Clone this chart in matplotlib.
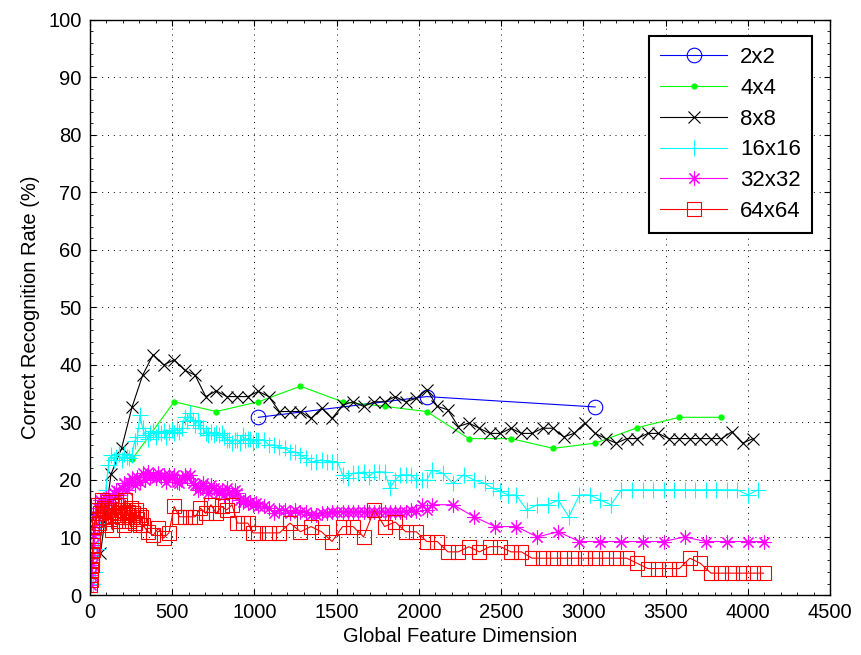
import matplotlib
matplotlib.use("agg")
import matplotlib.pyplot as plt
from matplotlib.ticker import MultipleLocator

plt.rcParams['font.family'] = ['Liberation Sans', 'DejaVu Sans']

# 2x2
x2 = [1024, 2048, 3072]
y2 = [30.9, 34.5, 32.7]

# 4x4
x4 = list(range(256, 3841, 256))
y4 = [23.6, 33.6, 31.9, 33.6, 36.3, 33.6, 32.8, 31.9, 27.2, 27.2,
      25.5, 26.4, 29.1, 30.9, 30.9]

# 8x8
x8 = list(range(64, 4033, 64))
y8 = [7.3, 21.0, 25.5, 32.7, 38.2, 41.8, 40.0, 40.9, 39.1, 38.2,
      34.5, 35.5, 34.5, 34.5, 34.5, 35.4, 34.5, 31.9, 31.9, 31.9,
      30.7, 32.5, 30.7, 33.0, 33.6, 32.8, 33.6, 33.6, 34.5, 33.6,
      34.2, 35.7, 32.8, 32.2, 29.3, 29.9, 29.0, 28.1, 28.1, 29.0,
      28.1, 28.1, 29.0, 29.0, 27.5, 28.1, 29.9, 28.1, 27.2, 26.4,
      27.2, 27.2, 28.1, 28.1, 27.2, 27.2, 27.2, 27.2, 27.2, 27.2,
      28.4, 26.4, 27.2]

# 16x16
x16 = (list(range(16, 1025, 16)) + list(range(1056, 2049, 32)) +
       [2080, 2144, 2208, 2272, 2336, 2400, 2448, 2496, 2544, 2592,
        2656, 2720, 2784, 2848, 2912, 2976, 3040, 3104, 3168] +
       list(range(3232, 4065, 64)))
y16 = [2.0, 4.0, 8.0, 12.5, 16.0, 18.3, 22.6, 24.3,
       23.5, 24.0, 24.5, 23.5, 24.5, 24.0, 23.8, 24.3,
       26.8, 27.5, 31.3, 29.0, 27.8, 27.2, 28.1, 28.6,
       27.5, 28.4, 28.1, 28.6, 27.5, 28.4, 28.7, 28.1,
       29.0, 28.4, 29.0, 31.0, 30.3, 31.6, 30.5, 29.6,
       30.3, 29.0, 29.0, 28.1, 27.8, 28.4, 27.8, 28.1,
       27.8, 28.1, 27.5, 27.0, 27.0, 26.4, 27.0, 27.0,
       26.4, 27.8, 27.0, 27.2, 27.2, 26.4, 27.0, 27.0,
       27.0, 26.1, 26.1, 25.8, 25.5, 24.9, 24.9, 24.3,
       23.8, 23.2, 23.2, 23.5, 23.2, 23.2, 23.2, 20.9,
       20.3, 21.2, 21.2, 21.4, 20.6, 21.4, 21.4, 21.4,
       18.6, 20.0, 20.9, 20.9, 20.9, 20.0, 20.0, 20.0,
       21.7, 21.2, 19.4, 20.9, 20.0, 19.4, 18.6, 18.0, 17.4, 17.4,
       14.8, 15.7, 15.7, 16.5, 13.6, 17.4, 17.4, 16.5, 15.7,
       18.3, 18.3, 18.3, 18.3, 18.3, 18.3, 18.3, 18.3, 18.3, 18.3,
       18.3, 18.3, 17.4, 18.3]

# 32x32
x32 = ([4, 8, 12, 16, 20, 24, 28, 32] + list(range(48, 1025, 16)) +
       list(range(1056, 2049, 32)) + list(range(2080, 4001, 128)) + [4096])
y32 = [1.7, 3.4, 5.2, 7.0, 8.7, 10.4, 12.2, 13.9,
       15.1, 16.5, 15.7, 16.8, 17.1, 16.2, 17.7, 18.3,
       17.4, 18.6, 19.4, 18.3, 19.7, 20.3, 19.1, 20.6,
       19.7, 21.2, 20.0, 21.4, 20.6, 20.9, 20.3, 21.2,
       20.6, 20.9, 19.7, 20.9, 20.3, 20.9, 19.7, 19.4,
       20.3, 20.9, 20.3, 20.9, 19.4, 19.1, 18.3, 18.6,
       19.4, 18.6, 17.7, 19.1, 18.6, 18.3, 17.7, 18.3,
       17.4, 18.6, 17.7, 17.4, 18.3, 17.7, 16.5, 16.2,
       16.5, 16.0, 16.2, 15.7, 16.0, 15.4,
       15.4, 15.1, 14.2, 14.8, 14.8, 14.2, 14.8, 14.5,
       14.5, 13.9, 13.9, 14.2, 14.2, 14.5, 14.5, 14.5,
       14.5, 14.5, 14.5, 14.5, 14.5, 14.5, 14.5, 14.5,
       14.5, 14.5, 14.5, 14.5, 14.8, 14.6, 15.7, 14.8,
       15.7, 15.7, 13.6, 11.9, 11.9, 10.1, 11.0, 9.3,
       9.3, 9.3, 9.3, 9.3, 10.1, 9.3, 9.3, 9.3,
       9.3]

# 64x64
x64 = (list(range(2, 21, 2)) + list(range(24, 313, 8)) +
       list(range(320, 993, 32)) + list(range(1024, 4097, 64)))
y64 = [1.7, 2.6, 3.5, 4.4, 5.2, 6.1, 7.0, 7.8, 8.7, 9.6,
       11.9, 13.0, 14.8, 15.7, 12.5, 14.2, 16.5, 13.6, 15.1, 12.2,
       14.8, 16.2, 13.3, 14.5, 11.3, 15.4, 13.9, 16.2, 12.8, 14.2,
       15.7, 13.6, 14.8, 12.2, 16.5, 13.9, 14.5, 12.8, 15.1, 13.6,
       14.2, 12.5, 14.8, 13.3, 13.9, 12.2, 13.6,
       12.2, 11.0, 10.4, 11.6, 9.9, 10.8, 15.4, 13.6, 13.6, 13.6,
       13.6, 15.1, 14.2, 15.7, 14.2, 15.4, 14.8, 15.7, 12.5, 12.5,
       12.5, 10.8,
       10.8, 10.8, 10.8, 12.5, 11.0, 11.9, 11.0, 9.3,
       11.9, 11.9, 10.1, 14.8, 11.9, 12.7, 11.0, 11.0,
       9.3, 9.3, 7.5, 7.5, 8.4, 7.5, 8.4, 8.4,
       7.5, 7.5, 6.4, 6.4, 6.4, 6.4, 6.4, 6.4,
       6.4, 6.4, 6.4, 6.4, 5.5, 4.6, 4.6, 4.6,
       4.6, 6.4, 5.5, 3.8, 3.8, 3.8, 3.8, 3.8, 3.8]

fig = plt.figure(figsize=(8.61, 6.55), dpi=100)
ax = fig.add_axes([0.1045, 0.0916, 0.8595, 0.878])

lw = 0.8
ax.plot(x2, y2, color='#0000ff', lw=lw, marker='o', ms=10.5, mfc='none', mew=0.8, label='2x2')
ax.plot(x4, y4, color='#00ff00', lw=lw, marker='.', ms=7, label='4x4')
ax.plot(x8, y8, color='black', lw=lw, marker='x', ms=9, mew=0.8, label='8x8')
ax.plot(x16, y16, color='#00ffff', lw=lw, marker='+', ms=12, mew=0.8, label='16x16')
ax.plot(x32, y32, color='#ff00ff', lw=lw, marker=(8, 2, 0), ms=10, mew=0.8, label='32x32')
ax.plot(x64, y64, color='#ff0000', lw=lw, marker='s', ms=9.5, mfc='none', mew=0.8, label='64x64')

ax.set_xlim(0, 4500)
ax.set_ylim(0, 100)
ax.xaxis.set_major_locator(MultipleLocator(500))
ax.xaxis.set_minor_locator(MultipleLocator(100))
ax.yaxis.set_major_locator(MultipleLocator(10))
ax.yaxis.set_minor_locator(MultipleLocator(2))
ax.tick_params(which='both', direction='in', top=True, right=True, labelsize=14.5, pad=6)
ax.tick_params(which='major', length=4, width=0.8)
ax.tick_params(which='minor', length=2, width=0.6)
ax.grid(True, which='major', color='black', linestyle=(0, (1, 5)), linewidth=0.7)
for s in ax.spines.values():
    s.set_linewidth(1.0)

ax.set_xlabel('Global Feature Dimension', fontsize=14.5, labelpad=3)
ax.set_ylabel('Correct Recognition Rate (%)', fontsize=14.5, labelpad=6)

leg = ax.legend(loc='upper right', bbox_to_anchor=(0.976, 0.972), borderaxespad=0,
                fontsize=16, fancybox=False, framealpha=1, edgecolor='black',
                handlelength=3.0, labelspacing=0.44, borderpad=0.5, handletextpad=0.6)
leg.get_frame().set_linewidth(1.5)

plt.savefig('out.png', dpi=100)
